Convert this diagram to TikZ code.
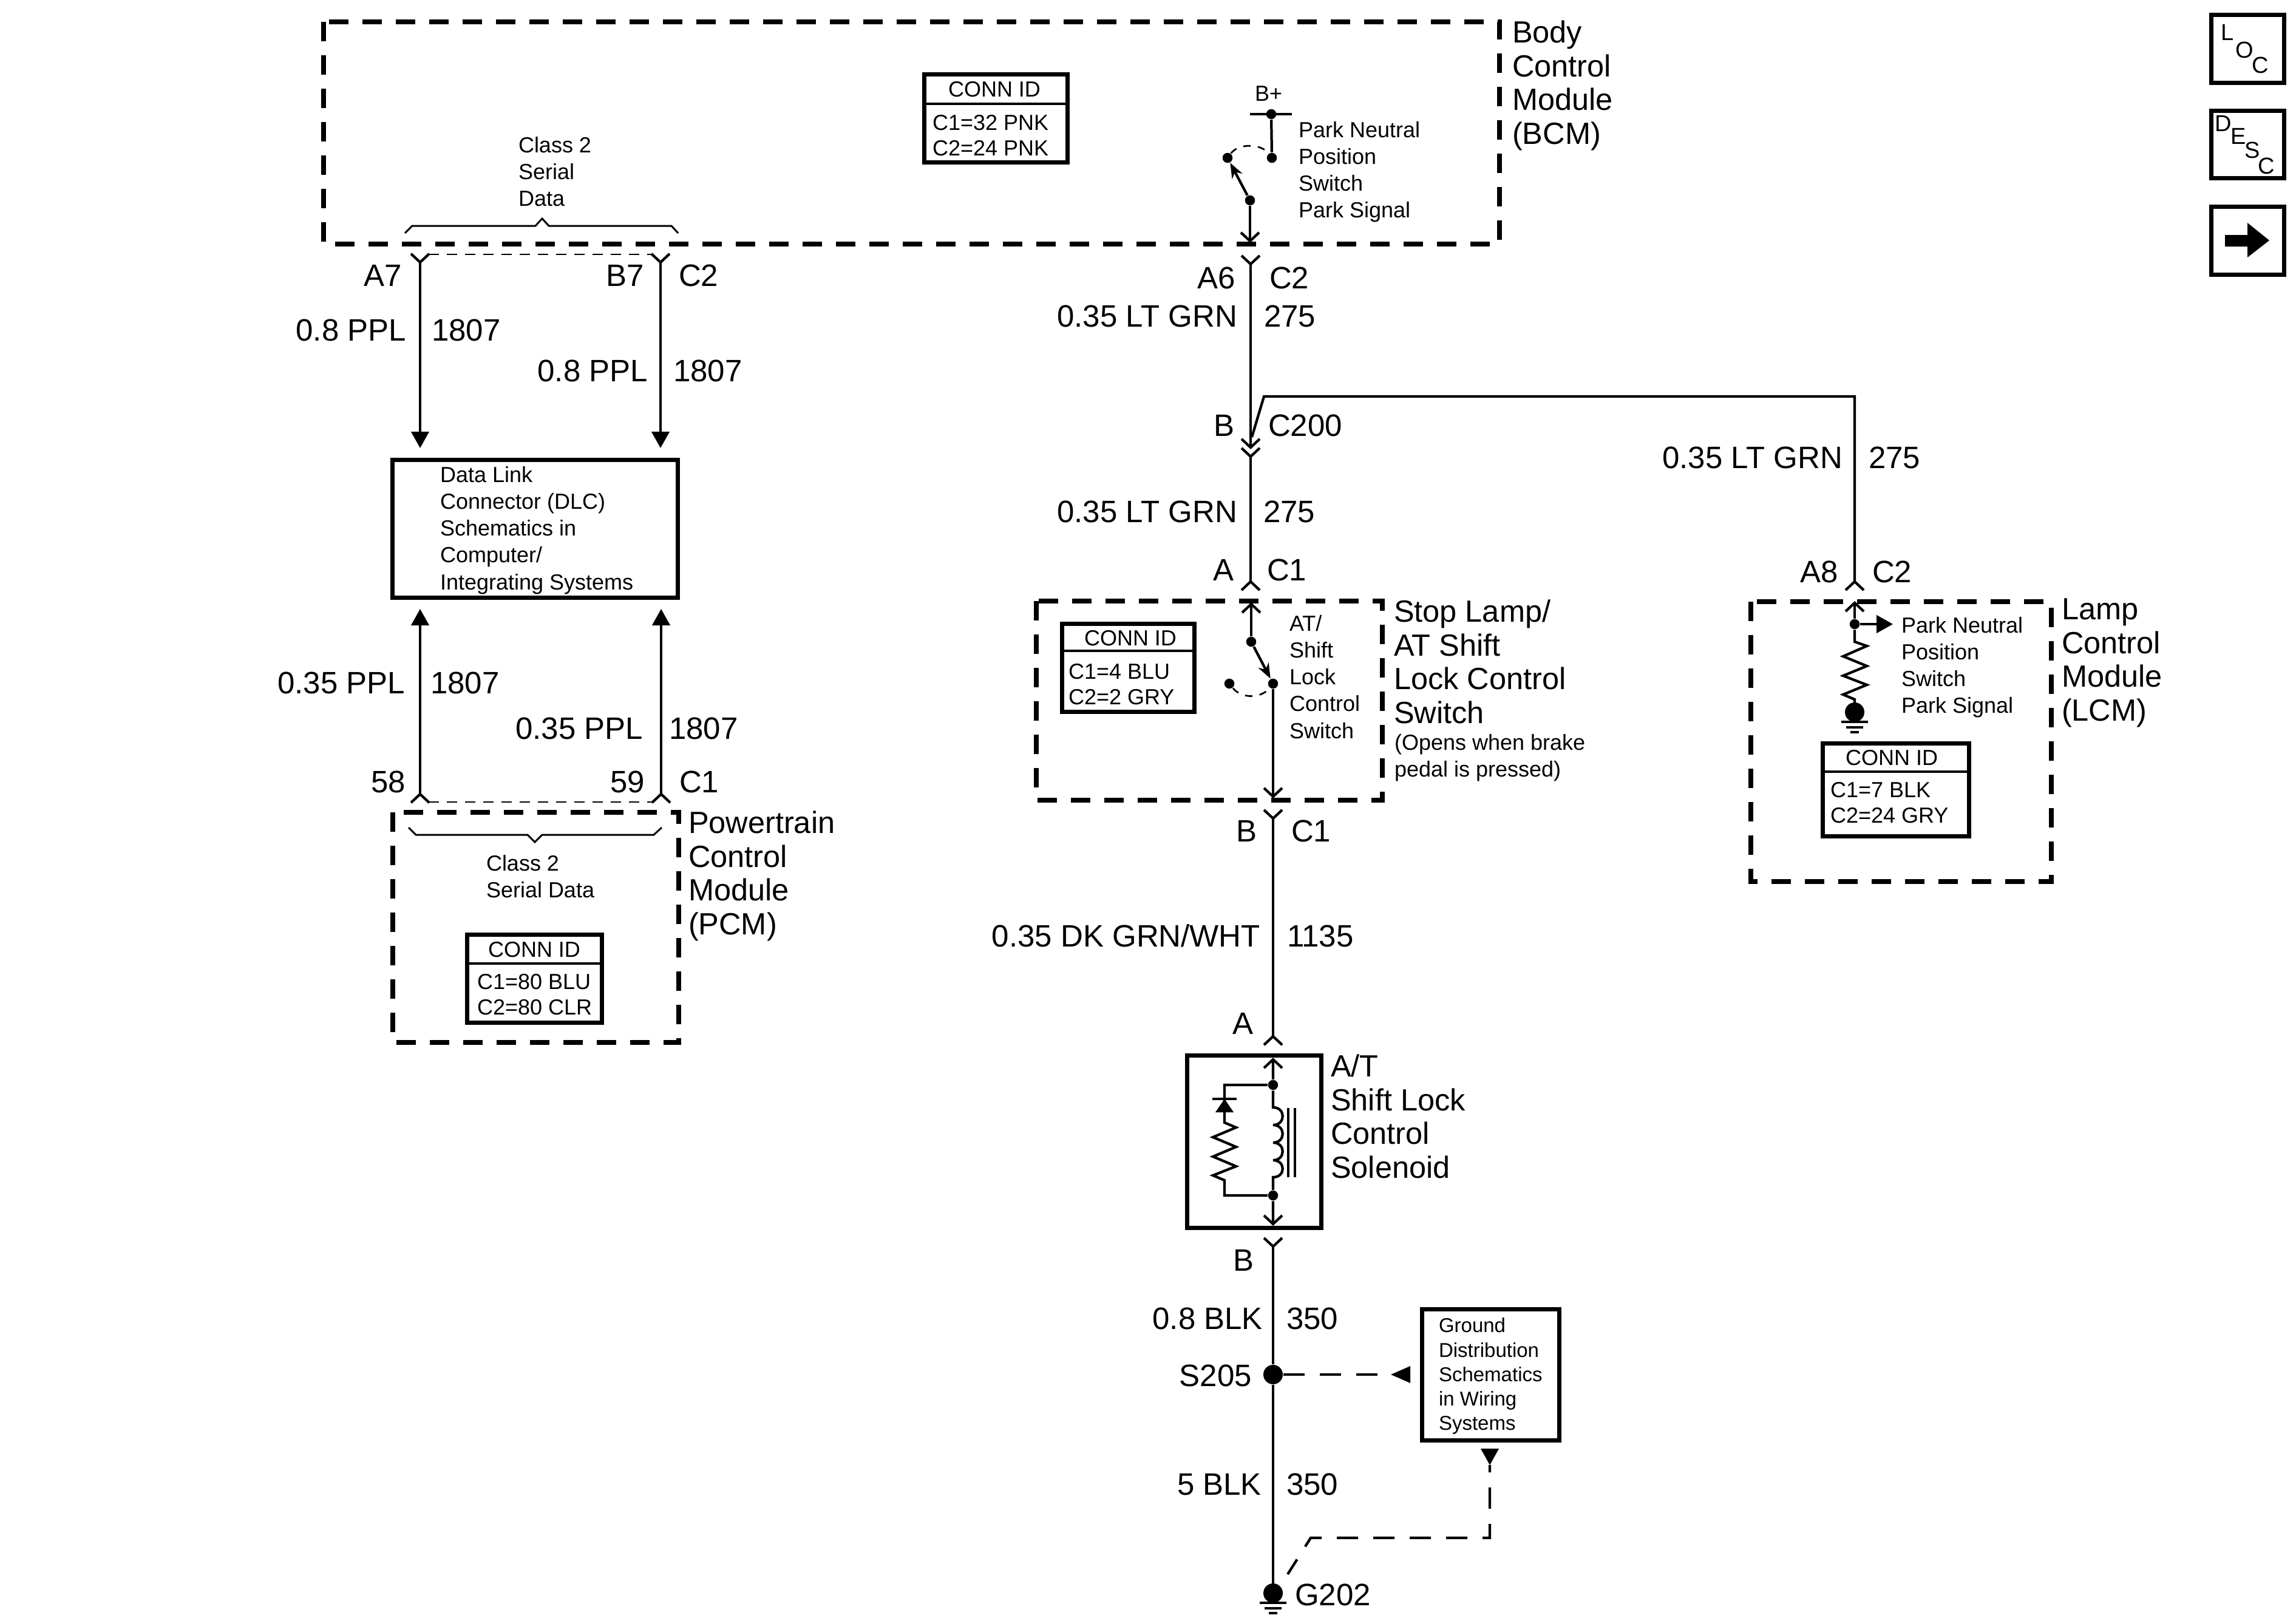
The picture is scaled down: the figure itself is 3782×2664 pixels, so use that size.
\documentclass[tikz,border=0pt]{standalone}
\usepackage{fontspec}
\setmainfont{Liberation Sans}
\usetikzlibrary{arrows.meta}
\tikzset{
  wire/.style={line width=0.85pt},
  thinwire/.style={line width=0.6pt},
  dashbox/.style={line width=1.6pt, dash pattern=on 6.4pt off 4.6pt},
  solidbox/.style={line width=1.4pt},
  idline/.style={line width=0.9pt},
  linkdash/.style={line width=0.55pt, dash pattern=on 3.4pt off 2.6pt},
  swingdash/.style={line width=0.55pt, dash pattern=on 2.4pt off 2.4pt},
  refdash/.style={line width=0.85pt, dash pattern=on 7pt off 5pt},
  solidhead/.style={-{Triangle[length=5.4pt, width=5.8pt]}},
  swinghead/.style={-{Stealth[length=5pt, width=3.8pt]}},
  dot/.style={circle, fill, inner sep=0pt, minimum size=3.3pt},
  ball/.style={circle, fill, inner sep=0pt, minimum size=6.4pt},
  lab/.style={font=\fontsize{10.2}{11.1}\selectfont, inner sep=0pt, text height=7.35pt, text depth=0pt},
  title/.style={font=\fontsize{10.1}{11.1}\selectfont, inner sep=0pt, anchor=north west, align=left},
  small/.style={font=\fontsize{7.2}{8.85}\selectfont, inner sep=0pt, anchor=north west, align=left},
  idtext/.style={font=\fontsize{7.2}{8.4}\selectfont, inner sep=0pt, anchor=north west, align=left},
  idhead/.style={font=\fontsize{7.2}{8.4}\selectfont, inner sep=0pt, text height=5.2pt, text depth=0pt},
  refsmall/.style={font=\fontsize{6.6}{8.05}\selectfont, inner sep=0pt, anchor=north west, align=left},
  iconlet/.style={font=\fontsize{7.6}{8}\selectfont, inner sep=0pt},
  downv/.pic={\draw[wire] (-15,-14) -- (0,0) -- (15,-14);},
  upv/.pic={\draw[wire] (-15,14) -- (0,0) -- (15,14);},
  gnd/.pic={
    \node[ball] (-b) at (0,0) {};
    \draw[wire] (-22,16) -- (22,16);
    \draw[wire] (-14,25) -- (14,25);
    \draw[wire] (-7,33) -- (7,33);
  }
}
\begin{document}
\begin{tikzpicture}[x=0.2pt, y=-0.2pt]
    \useasboundingbox (0,0) rectangle (3782,2664);

    \draw[dashbox] (533,36) rectangle (2470,402);
    \node[title] (bcmtitle) at (2490,33) {Body\\Control\\Module\\(BCM)};
    \draw[solidbox] (1522,123) rectangle (1758,268);
    \draw[idline] (1522,171) -- (1758,171);
    \node[idhead] (bcmidhead) at (1638,147) {CONN ID};
    \node[idtext] (bcmid) at (1535,188) {C1=32 PNK\\C2=24 PNK};
    \node[small] (bcmclass) at (853,224) {Class 2\\Serial\\Data};
    \draw[thinwire] (667,384) -- (679,372) -- (882,372) -- (893,360) -- (904,372) -- (1106,372) -- (1117,384);

    \node[small] (bplus) at (2066,141) {B+};
    \draw[wire] (2059,188) -- (2128,188);
    \node[dot] (bcmfeed) at (2094,188) {};
    \node[dot] (bcmright) at (2095,260) {};
    \node[dot] (bcmleft) at (2022,260) {};
    \node[dot] (bcmpivot) at (2059,330) {};
    \draw[wire] (bcmfeed) -- (bcmright);
    \draw[swingdash] (bcmleft) .. controls (2040,236) and (2077,236) .. (bcmright);
    \draw[wire, swinghead] (bcmpivot) -- (bcmleft);
    \coordinate (bcmout) at (2059,397);
    \draw[wire] (bcmpivot) -- (bcmout);
    \pic at (bcmout) {downv};
    \node[small] (bcmswitch) at (2138,199) {Park Neutral\\Position\\Switch\\Park Signal};

    \coordinate (a7) at (692,432);
    \coordinate (b7) at (1088,432);
    \coordinate (dlca) at (692,738);
    \coordinate (dlcb) at (1088,738);
    \pic at (a7) {downv};
    \pic at (b7) {downv};
    \draw[linkdash] (706,419) -- (1074,419);
    \draw[wire, solidhead] (a7) -- (dlca);
    \draw[wire, solidhead] (b7) -- (dlcb);
    \node[lab, anchor=east] (a7lab) at (663,453) {A7};
    \node[lab, anchor=east] (b7lab) at (1062,453) {B7};
    \node[lab, anchor=west] (c2lab) at (1117,453) {C2};
    \node[lab, anchor=east] (ppla) at (670,543) {0.8 PPL};
    \node[lab, anchor=west] (numa) at (710,543) {1807};
    \node[lab, anchor=east] (pplb) at (1068,610) {0.8 PPL};
    \node[lab, anchor=west] (numb) at (1108,610) {1807};

    \draw[solidbox] (646,757) rectangle (1116,984);
    \node[small] (dlctext) at (724,767) {Data Link\\Connector (DLC)\\Schematics in\\Computer/\\Integrating Systems};

    \coordinate (p58) at (692,1308);
    \coordinate (p59) at (1089,1308);
    \coordinate (dlcc) at (692,1003);
    \coordinate (dlcd) at (1089,1003);
    \pic at (p58) {upv};
    \pic at (p59) {upv};
    \draw[linkdash] (706,1321) -- (1075,1321);
    \draw[wire, solidhead] (p58) -- (dlcc);
    \draw[wire, solidhead] (p59) -- (dlcd);
    \node[lab, anchor=east] (pplc) at (668,1124) {0.35 PPL};
    \node[lab, anchor=west] (numc) at (708,1124) {1807};
    \node[lab, anchor=east] (ppld) at (1060,1199) {0.35 PPL};
    \node[lab, anchor=west] (numd) at (1101,1199) {1807};
    \node[lab, anchor=east] (lab58) at (669,1287) {58};
    \node[lab, anchor=east] (lab59) at (1063,1287) {59};
    \node[lab, anchor=west] (c1lab) at (1118,1287) {C1};

    \draw[dashbox] (647,1338) rectangle (1118,1717);
    \node[title] (pcmtitle) at (1133,1335) {Powertrain\\Control\\Module\\(PCM)};
    \draw[thinwire] (673,1363) -- (685,1375) -- (869,1375) -- (881,1387) -- (893,1375) -- (1077,1375) -- (1090,1363);
    \node[small] (pcmclass) at (800,1407) {Class 2\\Serial Data};
    \draw[solidbox] (769,1539) rectangle (991,1684);
    \draw[idline] (769,1587) -- (991,1587);
    \node[idhead] (pcmidhead) at (880,1563) {CONN ID};
    \node[idtext] (pcmid) at (785,1603) {C1=80 BLU\\C2=80 CLR};

    \coordinate (a6) at (2060,435);
    \coordinate (c200in) at (2060,737);
    \coordinate (c200out) at (2060,752);
    \coordinate (slsin) at (2060,958);
    \pic at (a6) {downv};
    \pic at (c200in) {downv};
    \pic at (c200out) {downv};
    \pic at (slsin) {upv};
    \draw[wire] (a6) -- (c200in);
    \draw[wire] (c200out) -- (slsin);
    \coordinate (tapfoot) at (2062,720);
    \coordinate (tapbend) at (2082,653);
    \coordinate (tapcorner) at (3055,653);
    \coordinate (a8) at (3055,958);
    \pic at (a8) {upv};
    \draw[wire] (tapfoot) -- (tapbend) -- (tapcorner) -- (a8);
    \node[lab, anchor=east] (a6lab) at (2036,457) {A6};
    \node[lab, anchor=west] (c2labb) at (2090,457) {C2};
    \node[lab, anchor=east] (grna) at (2039,520) {0.35 LT GRN};
    \node[lab, anchor=west] (numf) at (2081,520) {275};
    \node[lab, anchor=east] (blab) at (2034,700) {B};
    \node[lab, anchor=west] (c200lab) at (2088,700) {C200};
    \node[lab, anchor=east] (grnb) at (2039,842) {0.35 LT GRN};
    \node[lab, anchor=west] (numg) at (2080,842) {275};
    \node[lab, anchor=east] (alab) at (2033,938) {A};
    \node[lab, anchor=west] (c1labb) at (2086,938) {C1};
    \node[lab, anchor=east] (grnc) at (3036,753) {0.35 LT GRN};
    \node[lab, anchor=west] (numh) at (3077,753) {275};
    \node[lab, anchor=east] (a8lab) at (3029,941) {A8};
    \node[lab, anchor=west] (c2labc) at (3083,941) {C2};

    \draw[dashbox] (1707,990) rectangle (2277,1318);
    \node[title] (slstitle) at (2295,987) {Stop Lamp/\\AT Shift\\Lock Control\\Switch};
    \node[small] (slsnote) at (2296,1208) {(Opens when brake\\pedal is pressed)};
    \draw[solidbox] (1749,1027) rectangle (1967,1172);
    \draw[idline] (1749,1072) -- (1967,1072);
    \node[idhead] (slsidhead) at (1862,1050) {CONN ID};
    \node[idtext] (slsid) at (1759,1092) {C1=4 BLU\\C2=2 GRY};
    \coordinate (slstop) at (2061,995);
    \node[dot] (slspivot) at (2061,1057) {};
    \node[dot] (slsright) at (2097,1126) {};
    \node[dot] (slsleft) at (2025,1126) {};
    \coordinate (slsout) at (2097,1312);
    \pic at (slstop) {upv};
    \pic at (slsout) {downv};
    \draw[wire] (slstop) -- (slspivot);
    \draw[wire, swinghead] (slspivot) -- (slsright);
    \draw[swingdash] (slsleft) .. controls (2045,1151) and (2077,1151) .. (slsright);
    \draw[wire] (slsright) -- (slsout);
    \node[small] (slsswitch) at (2123,1012) {AT/\\Shift\\Lock\\Control\\Switch};

    \coordinate (slsb) at (2097,1348);
    \coordinate (sola) at (2097,1707);
    \pic at (slsb) {downv};
    \pic at (sola) {upv};
    \draw[wire] (slsb) -- (sola);
    \node[lab, anchor=east] (blabb) at (2071,1368) {B};
    \node[lab, anchor=west] (c1labc) at (2126,1368) {C1};
    \node[lab, anchor=east] (dkgrn) at (2077,1541) {0.35 DK GRN/WHT};
    \node[lab, anchor=west] (numk) at (2119,1541) {1135};
    \node[lab, anchor=east] (alabb) at (2065,1685) {A};

    \draw[solidbox] (1955,1738) rectangle (2176,2022);
    \node[title] (soltitle) at (2191,1736) {A/T\\Shift Lock\\Control\\Solenoid};
    \coordinate (soltop) at (2097,1745);
    \coordinate (solbot) at (2097,2016);
    \node[dot] (solup) at (2097,1787) {};
    \node[dot] (sollow) at (2097,1969) {};
    \pic at (soltop) {upv};
    \pic at (solbot) {downv};
    \draw[wire] (soltop) -- (solup) -- (2097,1824)
        .. controls (2118,1824) and (2118,1853) .. (2097,1853)
        .. controls (2118,1853) and (2118,1882) .. (2097,1882)
        .. controls (2118,1882) and (2118,1911) .. (2097,1911)
        .. controls (2118,1911) and (2118,1939) .. (2097,1939) -- (sollow) -- (solbot);
    \draw[wire] (2122,1825) -- (2122,1939);
    \draw[wire] (2133,1825) -- (2133,1939);
    \draw[wire] (solup) -- (2017,1787) -- (2017,1849) -- (2036,1857) -- (1998,1873) -- (2036,1889) -- (1998,1905) -- (2036,1921) -- (1998,1936) -- (2017,1944) -- (2017,1969) -- (sollow);
    \draw[wire] (1997,1810) -- (2037,1810);
    \fill (2017,1810) -- (2002,1832) -- (2032,1832) -- cycle;

    \coordinate (solb) at (2097,2053);
    \pic at (solb) {downv};
    \pic at (2097,2624) {gnd};
    \node[ball] (s205) at (2097,2264) {};
    \draw[wire] (solb) -- (s205) -- (2097,2624);
    \node[lab, anchor=east] (blabc) at (2066,2075) {B};
    \node[lab, anchor=east] (blka) at (2081,2171) {0.8 BLK};
    \node[lab, anchor=west] (numm) at (2118,2171) {350};
    \node[lab, anchor=east] (s205lab) at (2063,2265) {S205};
    \node[lab, anchor=east] (blkb) at (2079,2444) {5 BLK};
    \node[lab, anchor=west] (numn) at (2118,2444) {350};
    \node[lab, anchor=west] (g202lab) at (2132,2626) {G202};

    \draw[solidbox] (2342,2156) rectangle (2568,2372);
    \node[refsmall] (gndtext) at (2369,2170) {Ground\\Distribution\\Schematics\\in Wiring\\Systems};
    \coordinate (refside) at (2291,2264);
    \fill (refside) -- (2323,2250) -- (2323,2278) -- cycle;
    \draw[refdash] (s205) -- (refside);
    \coordinate (refbot) at (2454,2413);
    \fill (refbot) -- (2439,2386) -- (2469,2386) -- cycle;
    \draw[refdash, dash phase=4.6pt] (refbot) -- (2454,2533) -- (2159,2533) -- (2121,2593);

    \draw[dashbox] (2884,991) rectangle (3379,1452);
    \node[title] (lcmtitle) at (3395,985) {Lamp\\Control\\Module\\(LCM)};
    \coordinate (lcmtop) at (3055,993);
    \coordinate (lcmtip) at (3118,1028);
    \node[dot] (lcmtap) at (3055,1028) {};
    \pic at (lcmtop) {upv};
    \draw[wire] (lcmtop) -- (lcmtap);
    \draw[wire, solidhead] (lcmtap) -- (lcmtip);
    \draw[wire] (lcmtap) -- (3055,1057) -- (3075,1064) -- (3036,1081) -- (3075,1097) -- (3036,1113) -- (3075,1128) -- (3036,1144) -- (3055,1152) -- (3055,1173);
    \pic at (3055,1173) {gnd};
    \node[small] (lcmswitch) at (3131,1015) {Park Neutral\\Position\\Switch\\Park Signal};
    \draw[solidbox] (3002,1224) rectangle (3243,1377);
    \draw[idline] (3002,1271) -- (3243,1271);
    \node[idhead] (lcmidhead) at (3116,1247) {CONN ID};
    \node[idtext] (lcmid) at (3014,1287) {C1=7 BLK\\C2=24 GRY};

    \draw[solidbox] (3642,25) rectangle (3762,137);
    \node[iconlet] (locl) at (3669,53) {L};
    \node[iconlet] (loco) at (3697,82) {O};
    \node[iconlet] (locc) at (3723,107) {C};
    \draw[solidbox] (3642,183) rectangle (3762,294);
    \node[iconlet] (descd) at (3662,203) {D};
    \node[iconlet] (desce) at (3687,224) {E};
    \node[iconlet] (descs) at (3710,247) {S};
    \node[iconlet] (descc) at (3733,273) {C};
    \draw[solidbox] (3642,340) rectangle (3762,452);
    \fill (3665,387) -- (3702,387) -- (3702,367) -- (3738,396) -- (3702,424) -- (3702,406) -- (3665,406) -- cycle;
\end{tikzpicture}
\end{document}
